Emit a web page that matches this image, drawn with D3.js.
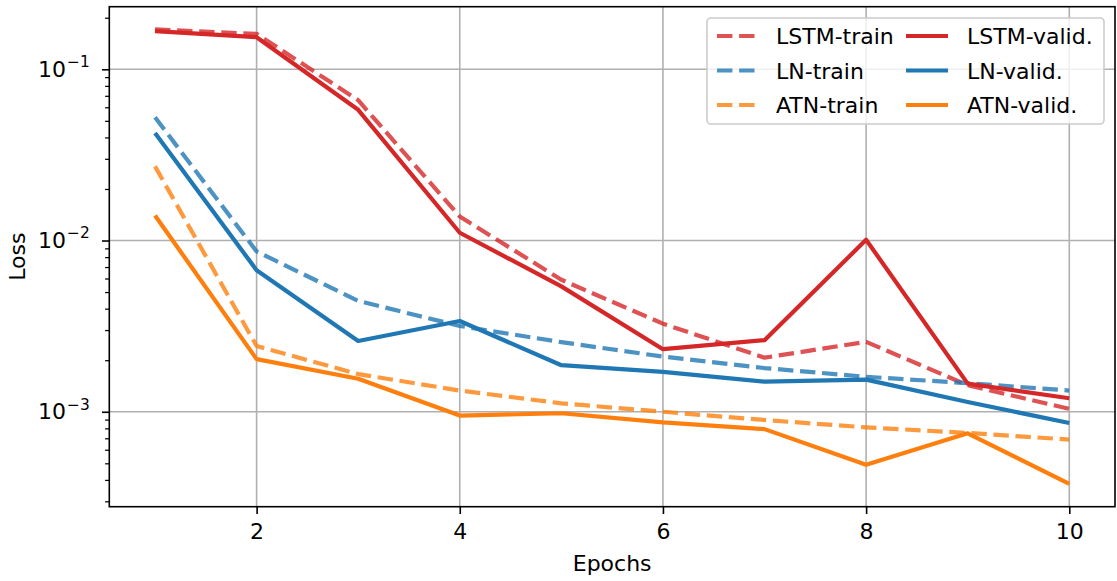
<!DOCTYPE html>
<html><head><meta charset="utf-8">
<script src="https://cdn.jsdelivr.net/npm/d3@7"></script>
<style>body{margin:0;background:#fff}svg{display:block}text{font-family:"DejaVu Sans",sans-serif;fill:#000}</style>
</head><body><svg id="c" width="1117" height="581"></svg>
<script>
const epochs = [1,2,3,4,5,6,7,8,9,10];
const lstmTrain = [0.171,0.161,0.066,0.0138,0.0059,0.00327,0.00207,0.00256,0.00143,0.00104];
const lstmValid = [0.167,0.154,0.058,0.0111,0.0054,0.00232,0.00262,0.0101,0.00146,0.00120];
const lnTrain = [0.0525,0.00863,0.00444,0.00317,0.00255,0.0021,0.0018,0.0016,0.00147,0.00133];
const lnValid = [0.0424,0.00671,0.00259,0.00339,0.00187,0.00171,0.0015,0.00154,0.00114,0.00086];
const atnTrain = [0.0271,0.00242,0.00166,0.00133,0.00112,0.0010,0.000895,0.000811,0.000752,0.000688];
const atnValid = [0.0140,0.00203,0.00156,0.00095,0.00098,0.000867,0.000792,0.000491,0.000748,0.000379];
const xTicks = [2,4,6,8,10];
const yTicks = [1e-1,1e-2,1e-3];
const yTickLabels = [["10","\u22121"],["10","\u22122"],["10","\u22123"]];
const seriesNames = ["LSTM-train","LN-train","ATN-train","LSTM-valid.","LN-valid.","ATN-valid."];

const series = [
  {name:seriesNames[0], data:lstmTrain, color:"#d62728", dash:true},
  {name:seriesNames[1], data:lnTrain, color:"#1f77b4", dash:true},
  {name:seriesNames[2], data:atnTrain, color:"#ff7f0e", dash:true},
  {name:seriesNames[3], data:lstmValid, color:"#d62728", dash:false},
  {name:seriesNames[4], data:lnValid, color:"#1f77b4", dash:false},
  {name:seriesNames[5], data:atnValid, color:"#ff7f0e", dash:false}
];

const L=109.3, R=1115, T=6.7, B=506.7;
const FS = 22;
const svg = d3.select("#c");
const x = d3.scaleLinear().domain([0.55,10.45]).range([L,R]);
const y = d3.scaleLog().domain([2.79e-4,0.232]).range([B,T]);

// grid
const g = svg.append("g");
g.selectAll(".gx").data(xTicks).enter().append("line")
  .attr("x1",d=>x(d)).attr("x2",d=>x(d)).attr("y1",T).attr("y2",B)
  .attr("stroke","#b0b0b0").attr("stroke-width",1.6);
g.selectAll(".gy").data(yTicks).enter().append("line")
  .attr("x1",L).attr("x2",R).attr("y1",d=>y(d)).attr("y2",d=>y(d))
  .attr("stroke","#b0b0b0").attr("stroke-width",1.6);

// lines
const line = d3.line().x((d,i)=>x(epochs[i])).y(d=>y(d));
series.forEach(s=>{
  svg.append("path").datum(s.data).attr("d",line).attr("fill","none")
    .attr("stroke",s.color).attr("stroke-width",4.2)
    .attr("stroke-opacity",s.dash?0.8:1)
    .attr("stroke-dasharray",s.dash?"15.4,6.7":null)
    .attr("stroke-linejoin","round");
});

// axes
const xAxis = d3.axisBottom(x).tickValues(xTicks).tickSize(7.3).tickPadding(9.5).tickFormat(d3.format("d"));
const ax = svg.append("g").attr("transform",`translate(0,${B})`).call(xAxis);
ax.select(".domain").remove();
ax.selectAll(".tick line").attr("stroke","#000").attr("stroke-width",1.6);
ax.selectAll(".tick text").attr("font-size",FS).attr("font-family","DejaVu Sans").attr("fill","#000");

// y minor ticks
const minor = [];
for (let e=-4;e<=-1;e++) for (let m=2;m<=9;m++){const v=m*Math.pow(10,e); if(v>=2.79e-4&&v<=0.232) minor.push(v);}
const yAxisMinor = d3.axisLeft(y).tickValues(minor).tickSize(4.2).tickFormat("");
const aym = svg.append("g").attr("transform",`translate(${L},0)`).call(yAxisMinor);
aym.select(".domain").remove();
aym.selectAll(".tick line").attr("stroke","#000").attr("stroke-width",1.25);

const yAxis = d3.axisLeft(y).tickValues(yTicks).tickSize(7.3).tickFormat("");
const ay = svg.append("g").attr("transform",`translate(${L},0)`).call(yAxis);
ay.select(".domain").remove();
ay.selectAll(".tick line").attr("stroke","#000").attr("stroke-width",1.6);
yTicks.forEach((v,i)=>{
  const t = svg.append("text").attr("x",L-19.5).attr("y",y(v)+7.3).attr("text-anchor","end").attr("font-size",FS);
  t.append("tspan").text(yTickLabels[i][0]);
  t.append("tspan").attr("font-size",FS*0.7).attr("dx",1).attr("dy",-9.5).text(yTickLabels[i][1]);
});

// spines
svg.append("rect").attr("x",L).attr("y",T).attr("width",R-L).attr("height",B-T)
  .attr("fill","none").attr("stroke","#000").attr("stroke-width",1.6);

// labels
svg.append("text").attr("x",(L+R)/2).attr("y",570.5).attr("text-anchor","middle").attr("font-size",FS).text("Epochs");
svg.append("text").attr("transform",`translate(25,${(T+B)/2}) rotate(-90)`).attr("text-anchor","middle").attr("font-size",FS).text("Loss");

// legend
const lg = svg.append("g");
lg.append("rect").attr("x",707).attr("y",18).attr("width",397).attr("height",106).attr("rx",4)
  .attr("fill","#fff").attr("fill-opacity",0.8).attr("stroke","#cccccc").attr("stroke-width",1.6);
const rowsY = [36,70.5,105];
series.forEach((s,i)=>{
  const col = Math.floor(i/3), row = i%3;
  const hx = col===0?717:906, tx = col===0?776:967;
  lg.append("line").attr("x1",hx).attr("x2",hx+42).attr("y1",rowsY[row]).attr("y2",rowsY[row])
    .attr("stroke",s.color).attr("stroke-width",4.2).attr("stroke-opacity",s.dash?0.8:1)
    .attr("stroke-dasharray",s.dash?"15.4,6.7":null);
  lg.append("text").attr("x",tx).attr("y",rowsY[row]+8).attr("font-size",FS).text(s.name);
});
</script></body></html>
